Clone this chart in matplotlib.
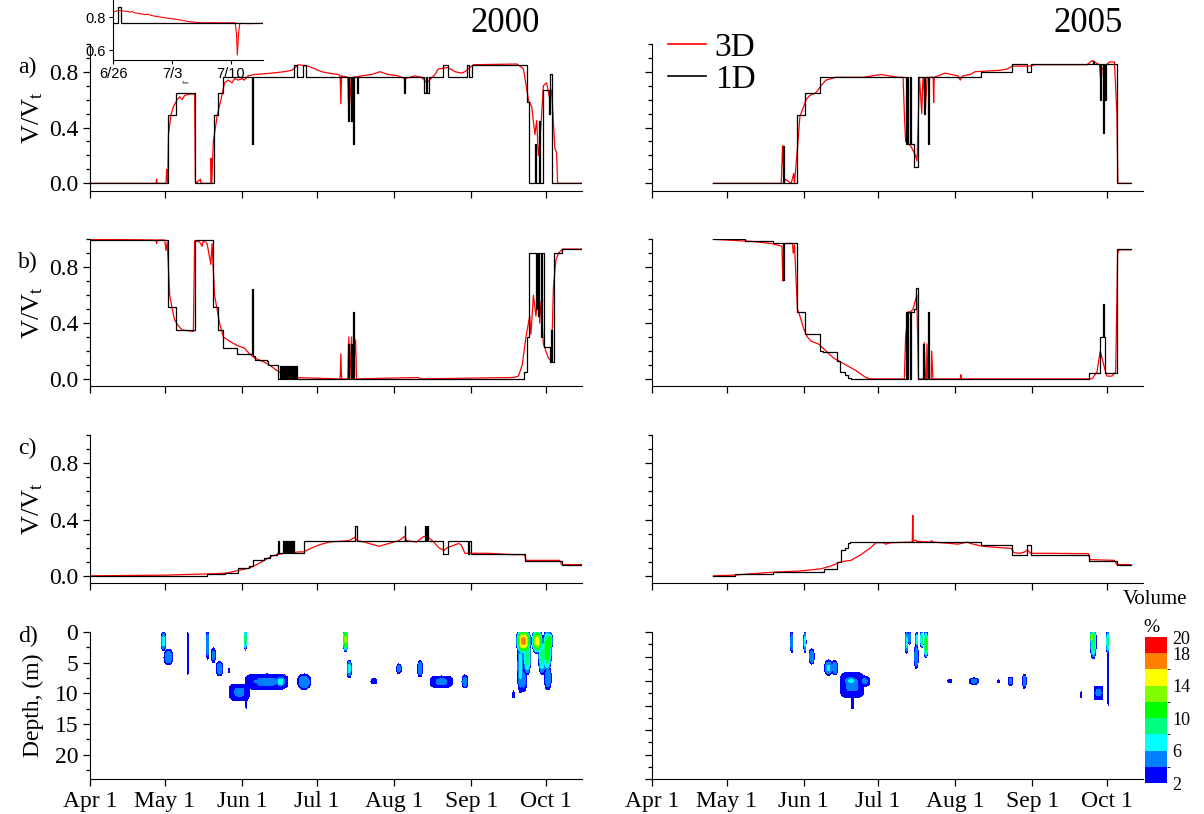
import numpy as np
import matplotlib
matplotlib.use("Agg")
import matplotlib.pyplot as plt
from matplotlib.colors import ListedColormap, BoundaryNorm
from matplotlib.lines import Line2D

plt.rcParams['font.family'] = ['Liberation Serif', 'DejaVu Serif']
plt.rcParams['mathtext.fontset'] = 'custom'
plt.rcParams['mathtext.rm'] = 'Liberation Serif'
plt.rcParams['mathtext.it'] = 'Liberation Serif:italic'

# x values are days since Apr 1
month_days = [0, 30, 61, 91, 122, 153, 183]
month_labels = ['Apr 1', 'May 1', 'Jun 1', 'Jul 1', 'Aug 1', 'Sep 1', 'Oct 1']
years = ['2000', '2005']

# ---- panel a (V/Vt, upper layer) ----
a00_3d = [(0, 0), (26.5, 0), (26.7, 0.03), (27, 0), (30.5, 0), (30.8, 0.1), (31.2, 0), (31.5, 0.35),
          (32.5, 0.49), (33.5, 0.55), (35, 0.6), (36, 0.62), (37, 0.6), (38, 0.63), (40, 0.64),
          (42, 0.64), (42.3, 0.03), (42.6, 0), (44.3, 0.03), (44.6, 0), (48.5, 0), (48.6, 0.18),
          (48.9, 0), (49.5, 0.3), (51.2, 0.5), (52.6, 0.6), (54, 0.72), (55.5, 0.74), (57, 0.72),
          (58, 0.75), (59.5, 0.74), (61, 0.75), (62, 0.74), (63.5, 0.77), (66, 0.78), (70, 0.785),
          (73, 0.79), (78, 0.8), (81, 0.81), (83.6, 0.85), (87.6, 0.84), (90.3, 0.82), (93, 0.8),
          (95.6, 0.79), (99.7, 0.78), (100.4, 0.77), (100.7, 0.57), (101, 0.77), (103.5, 0.76),
          (103.9, 0.45), (104.3, 0.76), (105.3, 0.45), (105.7, 0.76), (109, 0.77), (113, 0.78),
          (116.4, 0.8), (119.7, 0.78), (123.8, 0.77), (126.4, 0.75), (130.4, 0.77), (133.1, 0.76),
          (135.2, 0.72), (138.5, 0.78), (139.8, 0.82), (143.8, 0.83), (146.5, 0.8), (149.2, 0.79),
          (150.5, 0.8), (153.9, 0.85), (171.4, 0.855), (174, 0.82), (176, 0.6), (177.3, 0.55),
          (178.6, 0.35), (179.3, 0.45), (180, 0.2), (180.6, 0.3), (182, 0.7), (183.3, 0.72),
          (184.6, 0.6), (185.3, 0.67), (186.6, 0.25), (187.3, 0.22), (187.7, 0), (197.3, 0)]
a00_1d = [(0, 0), (31.4, 0.49), (34.4, 0.65), (42.1, 0), (49.9, 0.49), (51.5, 0.65), (53.5, 0.765),
          (64.9, 0.28), (65.6, 0.765), (82.0, 0.85), (83.1, 0.765), (85.6, 0.85), (86.6, 0.765),
          (103.7, 0.45), (104.1, 0.765), (104.6, 0.45), (105.0, 0.765), (105.5, 0.28), (106.1, 0.765),
          (107.2, 0.65), (107.7, 0.765), (125.9, 0.65), (126.4, 0.765), (134.2, 0.65), (134.7, 0.765),
          (135.4, 0.65), (136.1, 0.765), (141.8, 0.85), (143.8, 0.765), (151.4, 0.85), (152.1, 0.765),
          (153.2, 0.85), (175.5, 0.585), (176.3, 0.0), (178.6, 0.28), (179.0, 0), (180.2, 0.45),
          (180.6, 0), (181.9, 0.67), (184.3, 0.5), (184.7, 0.78), (185.3, 0), (197.3, 0)]
a05_3d = [(24.7, 0), (52, 0), (52.5, 0.27), (53.2, 0), (53.5, 0.03), (56, 0), (57, 0.07), (57.3, 0),
          (58.5, 0.25), (59.5, 0.48), (61, 0.55), (62, 0.6), (63.5, 0.63), (66, 0.65), (68, 0.7),
          (70, 0.74), (74, 0.76), (85, 0.76), (92, 0.78), (99, 0.76), (101, 0.76), (101.5, 0.5),
          (102, 0.3), (104, 0.27), (106, 0.2), (106.6, 0.16), (107.6, 0.76), (108.5, 0.5), (109, 0.76),
          (110, 0.55), (110.7, 0.76), (113.1, 0.76), (113.3, 0.58), (113.5, 0.76), (118, 0.79),
          (123, 0.77), (124, 0.74), (125, 0.77), (128, 0.78), (130, 0.8), (140, 0.81), (143, 0.82),
          (145, 0.84), (152, 0.84), (154, 0.85), (175, 0.85), (177, 0.88), (180, 0.85), (180.6, 0.72),
          (181, 0.82), (184, 0.87), (186, 0.87), (187, 0.5), (187.4, 0), (192.6, 0)]
a05_1d = [(24.7, 0), (52.5, 0.27), (53.2, 0), (58.4, 0.49), (61.4, 0.65), (67.7, 0.765), (102.0, 0.28),
          (102.6, 0.765), (103.1, 0.28), (103.6, 0.765), (104.0, 0.28), (105.5, 0.115), (107.0, 0.765),
          (109.5, 0.5), (109.9, 0.765), (111.2, 0.28), (111.6, 0.765), (132.5, 0.8), (145.0, 0.855),
          (151.0, 0.8), (152.3, 0.855), (177.4, 0.88), (177.8, 0.855), (180.3, 0.6), (180.8, 0.855),
          (181.4, 0.36), (181.8, 0.855), (182.4, 0.6), (182.8, 0.855), (187.0, 0.0), (192.6, 0)]

# ---- panel b (V/Vt, lower layer) ----
b00_3d = [(0, 1.0), (26.5, 0.995), (26.7, 0.97), (27, 0.995), (30, 0.995), (30.5, 0.92), (31, 0.98),
          (32, 0.6), (33, 0.5), (34, 0.42), (35.5, 0.38), (37, 0.35), (41.5, 0.34), (42, 0.99),
          (44, 0.98), (45, 0.95), (45.5, 0.99), (47, 0.97), (48.5, 0.82), (49, 0.97), (50, 0.6),
          (51, 0.5), (52, 0.4), (53.5, 0.3), (56, 0.27), (59, 0.24), (62, 0.22), (64, 0.18),
          (66, 0.15), (70, 0.12), (72, 0.1), (75, 0.06), (77, 0.04), (80, 0.02), (82, 0.01),
          (100.4, 0.0), (100.7, 0.18), (101, 0), (103.5, 0), (103.9, 0.3), (104.3, 0), (105, 0.3),
          (105.4, 0), (106.6, 0.28), (107, 0), (132, 0.01), (132.3, 0), (170, 0.01), (172, 0.02),
          (173.5, 0.1), (175, 0.3), (176.5, 0.45), (177, 0.32), (178, 0.6), (179, 0.45), (180, 0.65),
          (180.5, 0.4), (181, 0.55), (182, 0.25), (183, 0.2), (184, 0.15), (185, 0.13), (185.5, 0.3),
          (186, 0.65), (187, 0.85), (188, 0.9), (189.6, 0.93), (197.3, 0.93)]
b00_1d = [(0, 0.995), (31.4, 0.513), (34.4, 0.35), (42.1, 0.995), (49.5, 0.513), (51.5, 0.35),
          (53.5, 0.22), (58.9, 0.175), (64.9, 0.647), (65.4, 0.165), (66.2, 0.135), (70.9, 0.13),
          (71.5, 0.1), (75.3, 0.0), (76.3, 0.09), (76.7, 0), (77.0, 0.09), (77.4, 0), (77.7, 0.09),
          (78.1, 0), (78.4, 0.09), (78.8, 0), (79.1, 0.09), (79.5, 0), (79.8, 0.09), (80.2, 0),
          (80.5, 0.09), (80.9, 0), (81.2, 0.09), (81.6, 0), (81.9, 0.09), (82.3, 0), (82.6, 0.09),
          (82.9, 0), (103.7, 0.25), (104.1, 0), (104.6, 0.25), (105.0, 0), (105.5, 0.48), (106.0, 0),
          (174.3, 0.05), (175.3, 0.3), (176.2, 0.9), (178.9, 0.5), (179.3, 0.9), (180.0, 0.45),
          (180.4, 0.9), (181.0, 0.3), (181.4, 0.9), (182.2, 0.23), (184.5, 0.12), (185.0, 0.35),
          (185.6, 0.12), (186.4, 0.9), (189.6, 0.93), (197.3, 0.93)]
b05_3d = [(24.7, 1.0), (35, 0.99), (40, 0.985), (48, 0.97), (52.3, 0.95), (52.6, 0.7), (53, 0.97),
          (56.5, 0.97), (56.8, 0.9), (57.3, 0.96), (58.5, 0.5), (59.5, 0.45), (61, 0.36), (62.5, 0.3),
          (64, 0.27), (67, 0.25), (70, 0.2), (73, 0.15), (75, 0.13), (78, 0.1), (82, 0.06), (86, 0.01),
          (88, 0), (101.5, 0), (102, 0.3), (103, 0.48), (104, 0.48), (105, 0.5), (106.5, 0.6),
          (107.2, 0), (109.3, 0), (109.5, 0.26), (110, 0), (110.4, 0), (110.6, 0.25), (111, 0),
          (112.3, 0), (112.5, 0.2), (113, 0), (124, 0), (124.2, 0.03), (124.5, 0), (177, 0),
          (179, 0.05), (180.3, 0.2), (181, 0.15), (182, 0.08), (183, 0.02), (185, 0.02), (186.5, 0.05),
          (187.3, 0.9), (188, 0.925), (192.6, 0.925)]
b05_1d = [(24.7, 1.0), (37.4, 0.985), (48.8, 0.97), (52.5, 0.71), (53.2, 0.97), (58.4, 0.48),
          (61.4, 0.32), (67.7, 0.2), (68.8, 0.19), (74.4, 0.13), (75.7, 0.05), (77.5, 0.03),
          (79.0, 0.01), (80.0, 0.0), (102.0, 0.48), (102.6, 0), (103.1, 0.48), (103.6, 0),
          (104.0, 0.48), (105.3, 0.5), (106.0, 0.65), (107.0, 0), (109.2, 0.25), (109.6, 0),
          (111.2, 0.48), (111.6, 0), (175.7, 0.045), (180.3, 0.3), (181.4, 0.54), (181.8, 0.3),
          (182.4, 0.045), (187.0, 0.928), (192.6, 0.928)]

# ---- panel c (V/Vt, bottom layer) ----
c00_3d = [(0, 0.0), (30, 0.005), (50, 0.015), (55, 0.02), (60, 0.04), (64, 0.055), (67, 0.08),
          (70, 0.11), (73, 0.14), (75, 0.15), (78, 0.16), (84, 0.17), (86, 0.17), (88, 0.19),
          (92, 0.22), (96, 0.24), (104, 0.25), (106.4, 0.275), (107, 0.25), (110, 0.24), (116, 0.21),
          (120, 0.23), (124, 0.25), (126.3, 0.28), (127, 0.25), (131, 0.24), (134, 0.28), (136, 0.27),
          (138, 0.24), (140, 0.2), (142, 0.18), (143.5, 0.2), (148, 0.23), (149, 0.22), (150.5, 0.16),
          (153, 0.16), (160, 0.16), (170, 0.15), (174.5, 0.15), (175, 0.11), (188.5, 0.11),
          (189.3, 0.08), (197.3, 0.08)]
c00_1d = [(0, 0), (47, 0.01), (54, 0.02), (59.3, 0.055), (63.9, 0.07), (65.4, 0.11), (70, 0.13),
          (72.3, 0.15), (75, 0.16), (75.5, 0.245), (76, 0.16), (77.4, 0.245), (77.7, 0.16),
          (78.0, 0.245), (78.3, 0.16), (78.6, 0.245), (78.9, 0.16), (79.2, 0.245), (79.5, 0.16),
          (79.8, 0.245), (80.1, 0.16), (80.4, 0.245), (80.7, 0.16), (81.0, 0.245), (81.3, 0.16),
          (81.5, 0.245), (81.7, 0.16), (85.8, 0.245), (106.5, 0.356), (107.0, 0.245), (126.3, 0.356),
          (126.6, 0.245), (134.4, 0.356), (134.9, 0.245), (135.3, 0.356), (135.8, 0.245),
          (141.8, 0.155), (143.9, 0.245), (151.6, 0.155), (152.3, 0.245), (152.8, 0.155),
          (174.6, 0.105), (189.3, 0.076), (197.3, 0.076)]
c05_3d = [(24.7, 0.0), (33, 0.005), (40, 0.015), (48, 0.025), (60, 0.035), (68, 0.05), (72, 0.07),
          (76, 0.1), (80, 0.11), (84, 0.15), (88, 0.2), (90, 0.235), (93, 0.235), (94, 0.225),
          (96, 0.235), (104.7, 0.24), (104.9, 0.43), (105.1, 0.245), (106, 0.255), (106.5, 0.245),
          (112, 0.24), (112.5, 0.25), (113, 0.24), (120, 0.23), (123, 0.225), (127, 0.24), (128, 0.23),
          (133, 0.21), (140, 0.2), (144.5, 0.195), (145.5, 0.165), (148, 0.16), (150, 0.17),
          (151, 0.185), (152.3, 0.16), (160, 0.16), (170, 0.158), (175.5, 0.158), (176.2, 0.115),
          (186, 0.11), (187, 0.08), (192.6, 0.08)]
c05_1d = [(24.7, 0.0), (33.4, 0.01), (48.8, 0.026), (69, 0.048), (74.4, 0.1), (75.9, 0.18),
          (77.5, 0.2), (78.8, 0.23), (79.5, 0.243), (132.5, 0.22), (145, 0.148), (150.7, 0.22),
          (152.3, 0.15), (175.7, 0.105), (187, 0.075), (192.6, 0.075)]

# ---- inset (2000 panel a, late June - mid July) ----
ins_3d = [(86, 0.83), (86.7, 0.84), (87.5, 0.835), (88, 0.83), (88.3, 0.833), (88.6, 0.825),
          (89.2, 0.82), (89.8, 0.815), (90.2, 0.817), (90.5, 0.81), (91, 0.805), (91.6, 0.8),
          (92.2, 0.795), (93, 0.79), (93.7, 0.785), (94.4, 0.778), (95, 0.772), (95.8, 0.768),
          (96.5, 0.765), (97.5, 0.766), (98.5, 0.765), (99.5, 0.765), (100.5, 0.765), (100.65, 0.7),
          (100.75, 0.57), (100.9, 0.7), (101.05, 0.762), (102, 0.76), (103.8, 0.762)]
ins_1d = [(86, 0.765), (86.6, 0.86), (86.9, 0.765), (103.8, 0.765)]

# ---- panel d: volume % patches (day, depth m, half width days, half height m, peak %, squareness) ----
d00_patches = [(29.5, 1.5, 1.0, 1.6, 7, 2), (31.5, 4.1, 1.8, 1.3, 6, 2), (39.3, 3.5, 0.25, 3.5, 3, 2),
               (47.2, 2.0, 0.6, 2.5, 6, 2), (49.5, 3.8, 0.9, 1.2, 5, 2), (52.0, 6.0, 1.4, 1.2, 6, 2),
               (55.8, 6.3, 0.3, 0.4, 3, 2), (62.4, 1.2, 0.4, 1.8, 12, 2), (60.0, 9.8, 4.0, 1.4, 4.5, 4),
               (71.0, 8.1, 8.5, 1.3, 4.5, 4), (71.0, 8.1, 7.5, 0.3, 5.5, 4), (76.5, 8.1, 2.0, 0.9, 7, 2),
               (62.8, 11.5, 0.3, 1.0, 3, 2), (86.0, 8.1, 2.8, 1.3, 6, 2), (102.6, 1.2, 1.0, 2.0, 13, 2),
               (104.1, 6.0, 0.9, 1.5, 7, 2), (114.0, 8.0, 1.2, 0.5, 4, 2), (124.0, 6.0, 1.0, 0.8, 5, 2),
               (132.5, 6.0, 1.0, 1.4, 6, 2), (141.0, 8.1, 4.5, 1.0, 4.5, 3), (142.0, 8.1, 1.5, 0.7, 5.5, 2),
               (150.5, 8.1, 1.2, 1.1, 5.5, 2), (174.0, 1.5, 3.0, 2.2, 17, 2), (172.8, 5.5, 1.3, 4.5, 7, 2),
               (175.5, 4.0, 1.5, 3.0, 10, 2), (179.5, 1.5, 2.2, 2.0, 15, 2), (181.5, 4.0, 1.5, 3.0, 9, 2),
               (183.5, 3.0, 1.8, 3.5, 12, 2), (183.8, 7.5, 1.4, 2.0, 6, 2), (184.5, 1.5, 1.2, 1.5, 12, 2),
               (174.0, 7.8, 1.4, 2.0, 5, 2), (170.0, 10.2, 0.3, 0.6, 3, 2)]
d05_patches = [(56.2, 2.0, 0.5, 2.3, 6, 2), (61.5, 2.0, 0.5, 2.3, 7, 2), (64.2, 5.0, 1.1, 1.6, 6, 2),
               (71.0, 7.3, 1.6, 1.6, 6.5, 2), (73.5, 7.3, 1.2, 1.5, 6, 2), (80.5, 10.8, 4.8, 2.6, 4.5, 4),
               (80.0, 10.0, 2.8, 0.9, 6.5, 2), (85.5, 10.0, 2.2, 1.1, 4.5, 2), (80.7, 14.5, 0.6, 1.2, 3, 2),
               (102.4, 2.0, 0.5, 2.5, 7, 2), (103.6, 1.2, 0.4, 1.5, 6, 2), (106.3, 5.0, 0.8, 2.5, 6, 2),
               (106.5, 1.5, 0.5, 1.5, 8, 2), (108.5, 1.5, 0.5, 1.8, 10, 2), (110.2, 2.5, 0.8, 2.8, 12, 2),
               (119.8, 10.0, 0.8, 0.35, 3.5, 2), (129.5, 10.0, 2.0, 0.7, 5, 2), (139.4, 10.0, 0.4, 0.3, 3, 2),
               (144.2, 10.0, 1.0, 0.9, 5, 2), (149.8, 10.0, 0.8, 1.5, 5.5, 2), (177.5, 2.0, 1.2, 3.5, 10, 2),
               (177.0, 1.0, 0.8, 1.2, 14, 2), (183.3, 2.0, 0.5, 2.5, 9, 2), (183.5, 8.0, 0.3, 7.0, 3.5, 2),
               (179.6, 12.4, 1.8, 1.4, 4.5, 6), (179.6, 12.4, 1.7, 0.25, 5.5, 6), (172.7, 12.8, 0.3, 0.6, 3, 2)]

vol_levels = [2, 4, 6, 8, 10, 12, 14, 16, 18, 20]
vol_colors = ['#0000ff', '#0080ff', '#00ffff', '#00ff80', '#00ff00',
              '#80ff00', '#ffff00', '#ff8000', '#ff0000']
vol_ticks = [2, 6, 10, 14, 18, 20]


def volume_field(patches, t, z):
    f = np.zeros_like(t)
    for tc, zc, hw, hh, pk, p in patches:
        r2 = (np.abs((t - tc) / hw) ** p + np.abs((z - zc) / hh) ** p) ** (2.0 / p)
        f = np.maximum(f, np.where(r2 < 1, 2.05 + (pk - 2.05) * (1 - r2), 0))
    return f


W, H = 1204, 814
fig = plt.figure(figsize=(W / 100, H / 100), dpi=100)


def px_axes(x0, y_top, x1, y_bot):
    return fig.add_axes([x0 / W, 1 - y_bot / H, (x1 - x0) / W, (y_bot - y_top) / H])


cols = [(90, 582), (652, 1143)]
rows = [(43.8, 190.7), (239.3, 386.3), (435, 583.3), (632, 779.3)]
series = [[(a00_3d, a00_1d), (a05_3d, a05_1d)],
          [(b00_3d, b00_1d), (b05_3d, b05_1d)],
          [(c00_3d, c00_1d), (c05_3d, c05_1d)]]
xmax = 197.5


def style_x(ax, labels):
    ax.spines['top'].set_visible(False)
    ax.spines['right'].set_visible(False)
    ax.set_xlim(0, xmax)
    ax.set_xticks(month_days)
    ax.set_xticklabels(month_labels if labels else [])
    ax.tick_params(axis='both', which='major', direction='out', length=5, width=0.9, labelsize=17)
    ax.tick_params(axis='both', which='minor', direction='out', length=3, width=0.9)


for r in range(3):
    for c in range(2):
        ax = px_axes(cols[c][0], rows[r][0], cols[c][1], rows[r][1])
        red, blk = series[r][c]
        ax.plot([p[0] for p in red], [p[1] for p in red], color='#ff0000', lw=0.9)
        ax.plot([p[0] for p in blk], [p[1] for p in blk], color='black', lw=0.9, drawstyle='steps-post')
        style_x(ax, False)
        ax.set_ylim(-0.053, 1.0)
        ax.set_yticks([0, 0.4, 0.8])
        ax.set_yticks([0.1, 0.2, 0.3, 0.5, 0.6, 0.7, 0.9, 1.0], minor=True)
        if c == 0:
            ax.set_yticklabels(['0.0', '0.4', '0.8'])
        else:
            ax.set_yticklabels([])
        if r == 0 and c == 1:
            h = [Line2D([], [], color='#ff0000', lw=1.2), Line2D([], [], color='black', lw=1.2)]
            fig.legend(h, ['3D', '1D'], loc='upper left', bbox_to_anchor=(668 / W, 1 - 32 / H),
                       frameon=False, fontsize=24, handlelength=1.15, handletextpad=0.25,
                       labelspacing=0.05, borderpad=0, borderaxespad=0)

# depth panels
cmap = ListedColormap(vol_colors)
norm = BoundaryNorm(vol_levels, cmap.N)
tt, zz = np.meshgrid(np.arange(0, xmax + 0.1, 0.1), np.arange(0, 30.05, 0.1))
for c, (patches, zmax) in enumerate([(d00_patches, 24), (d05_patches, 30)]):
    ax = px_axes(cols[c][0], rows[3][0], cols[c][1], rows[3][1])
    ax.contourf(tt, zz, volume_field(patches, tt, zz), levels=vol_levels, cmap=cmap, norm=norm)
    style_x(ax, True)
    ax.set_ylim(zmax, 0)
    ax.set_yticks(np.arange(0, zmax + 1, 5))
    ax.set_yticks(np.arange(2.5, zmax + 0.1, 5), minor=True)
    if c == 1:
        ax.set_yticklabels([])

cax = px_axes(1145, 637, 1167, 783)
sm = matplotlib.cm.ScalarMappable(norm=norm, cmap=cmap)
cb = fig.colorbar(sm, cax=cax, ticks=vol_ticks)
cb.outline.set_visible(False)
cb.ax.tick_params(length=0, labelsize=13, pad=4)
fig.text(1155 / W, 1 - 600 / H, 'Volume', ha='center', va='center', fontsize=15)
fig.text(1151 / W, 1 - 627 / H, '%', ha='center', va='center', fontsize=14)

# inset
ins = px_axes(113, 0, 263, 60)
ins.plot([p[0] for p in ins_3d], [p[1] for p in ins_3d], color='#ff0000', lw=0.8)
ins.plot([p[0] for p in ins_1d], [p[1] for p in ins_1d], color='black', lw=0.9, drawstyle='steps-post')
ins.set_xlim(86, 103.8)
ins.set_ylim(0.54, 0.903)
ins.set_xticks([86, 93, 100])
ins.set_xticklabels(['6/26', '7/3', '7/10'])
ins.set_yticks([0.6, 0.8])
ins.set_yticklabels(['0.6', '0.8'])
ins.spines['top'].set_visible(False)
ins.spines['right'].set_visible(False)
for lab in ins.get_xticklabels() + ins.get_yticklabels():
    lab.set_family('Liberation Sans')
ins.tick_params(direction='out', length=3, width=0.8, labelsize=10.5, pad=2)
fig.text(186 / W, 1 - 83 / H, 'Time', ha='center', va='center', fontsize=2.5, family='Liberation Sans')

# titles, panel letters, axis labels
fig.text(505 / W, 1 - 23 / H, years[0], ha='center', va='center', fontsize=25)
fig.text(1088 / W, 1 - 23 / H, years[1], ha='center', va='center', fontsize=25)
for lab, y in zip(['a)', 'b)', 'c)', 'd)'], [67, 262, 448, 636]):
    fig.text(18 / W, 1 - y / H, lab, ha='left', va='center', fontsize=17)
for r in range(3):
    yc = (rows[r][0] + rows[r][1]) / 2
    fig.text(33 / W, 1 - yc / H, 'V/V$_{\\mathrm{t}}$', rotation=90, ha='center', va='center', fontsize=19)
fig.text(33 / W, 1 - (rows[3][0] + rows[3][1]) / 2 / H, 'Depth, (m)', rotation=90,
         ha='center', va='center', fontsize=17)

fig.savefig('out.png', dpi=100)
